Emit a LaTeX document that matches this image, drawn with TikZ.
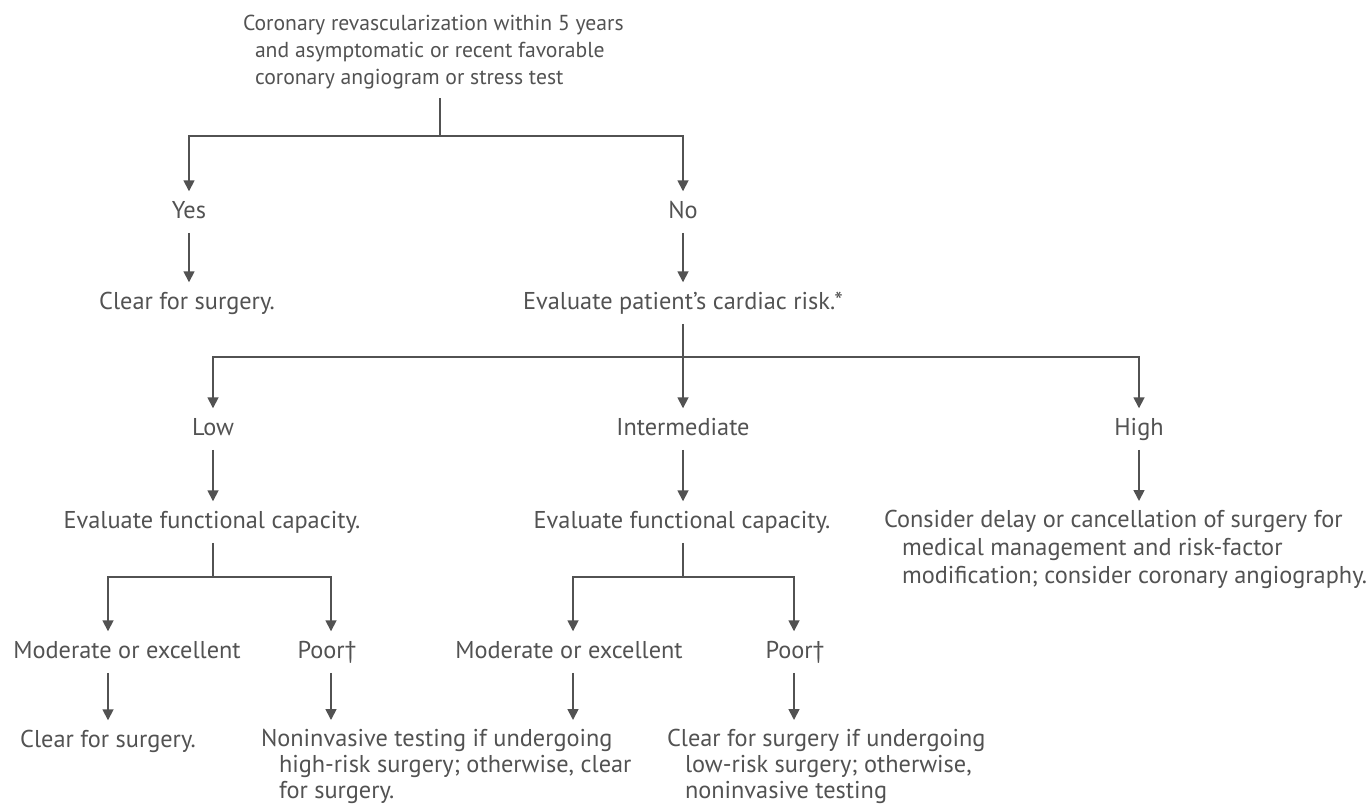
\documentclass[tikz,border=0pt]{standalone}
\usepackage{fontspec}
\setmainfont{PT Sans}
\usetikzlibrary{arrows.meta}
\definecolor{ink}{gray}{0.32}
\newcommand{\upstrut}{\rule{0pt}{19pt}}
\newcommand{\dnstrut}{\rule[-10pt]{0pt}{10pt}}

\begin{document}
\begin{tikzpicture}[x=0.025cm, y=-0.025cm, line width=1.2pt, color=ink,
		txt/.style={font=\fontsize{17.3}{20}\selectfont, inner sep=0pt, outer sep=0pt},
		lbl/.style={txt, anchor=base, text height=19pt, text depth=10.5pt},
		blk/.style={txt, anchor=north west, align=left},
		arr/.style={-{Triangle[length=0.27cm, width=0.27cm]}}
	]
		\useasboundingbox (0,0) rectangle (1372,808);

		\node[blk, font=\fontsize{15.4}{19}\selectfont] (Q) at (243,4) {\upstrut Coronary revascularization within 5 years\\
			\hspace*{0.3cm}and asymptomatic or recent favorable\\
			\hspace*{0.3cm}coronary angiogram or stress test\dnstrut};

		\node[lbl] (Y) at (189,218) {Yes};
		\node[lbl] (N) at (683,218) {No};
		\node[lbl] (C1) at (187,309) {Clear for surgery.};
		\node[lbl] (R) at (683,309) {Evaluate patient's cardiac risk.*};

		\node[lbl] (L) at (213,435) {Low};
		\node[lbl] (I) at (683,435) {Intermediate};
		\node[lbl] (H) at (1139,435) {High};

		\node[lbl] (F1) at (212,528) {Evaluate functional capacity.};
		\node[lbl] (F2) at (682,528) {Evaluate functional capacity.};
		\node[blk] (D) at (884,501) {\upstrut Consider delay or cancellation of surgery for\\
			\hspace*{0.45cm}medical management and risk-factor\\
			\hspace*{0.45cm}modification; consider coronary angiography.};

		\node[lbl] (M1) at (127,658) {Moderate or excellent};
		\node[lbl] (P1) at (327,658) {Poor†};
		\node[lbl] (M2) at (569,658) {Moderate or excellent};
		\node[lbl] (P2) at (795,658) {Poor†};

		\node[lbl] (C2) at (108,747) {Clear for surgery.};
		\node[blk, font=\fontsize{17.3}{18.5}\selectfont] (T1) at (261,720) {\upstrut Noninvasive testing if undergoing\\
			\hspace*{0.45cm}high-risk surgery; otherwise, clear\\
			\hspace*{0.45cm}for surgery.};
		\node[blk, font=\fontsize{17.3}{18.5}\selectfont] (T2) at (667,720) {\upstrut Clear for surgery if undergoing\\
			\hspace*{0.45cm}low-risk surgery; otherwise,\\
			\hspace*{0.45cm}noninvasive testing};

		\coordinate (J1) at (440,136);
		\coordinate (J2) at (683,357);
		\coordinate (J3) at (213,577);
		\coordinate (J4) at (683,577);
		\coordinate (B1) at (108,577);
		\coordinate (B2) at (331,577);
		\coordinate (B3) at (573,577);
		\coordinate (B4) at (794,577);

		\draw (Q.south -| J1) -- (J1);
		\draw[arr] (J1) -| (Y);
		\draw[arr] (J1) -| (N);
		\draw[arr] (Y) -- (Y |- C1.north);
		\draw[arr] (N) -- (R);

		\draw[arr] (R) -- (I);
		\draw[arr] (J2) -| (L);
		\draw[arr] (J2) -| (H);
		\draw[arr] (L) -- (L |- F1.north);
		\draw[arr] (I) -- (I |- F2.north);
		\draw[arr] (H) -- (H |- D.north);

		\draw (F1.south -| J3) -- (J3);
		\draw[arr] (J3) -- (B1) -- (B1 |- M1.north);
		\draw[arr] (J3) -- (B2) -- (B2 |- P1.north);
		\draw (F2.south -| J4) -- (J4);
		\draw[arr] (J4) -- (B3) -- (B3 |- M2.north);
		\draw[arr] (J4) -- (B4) -- (B4 |- P2.north);

		\draw[arr] (M1.south -| B1) -- (B1 |- C2.north);
		\draw[arr] (P1.south -| B2) -- (B2 |- T1.north);
		\draw[arr] (M2.south -| B3) -- (B3 |- T1.north);
		\draw[arr] (P2.south -| B4) -- (B4 |- T2.north);
	\end{tikzpicture}
\end{document}
